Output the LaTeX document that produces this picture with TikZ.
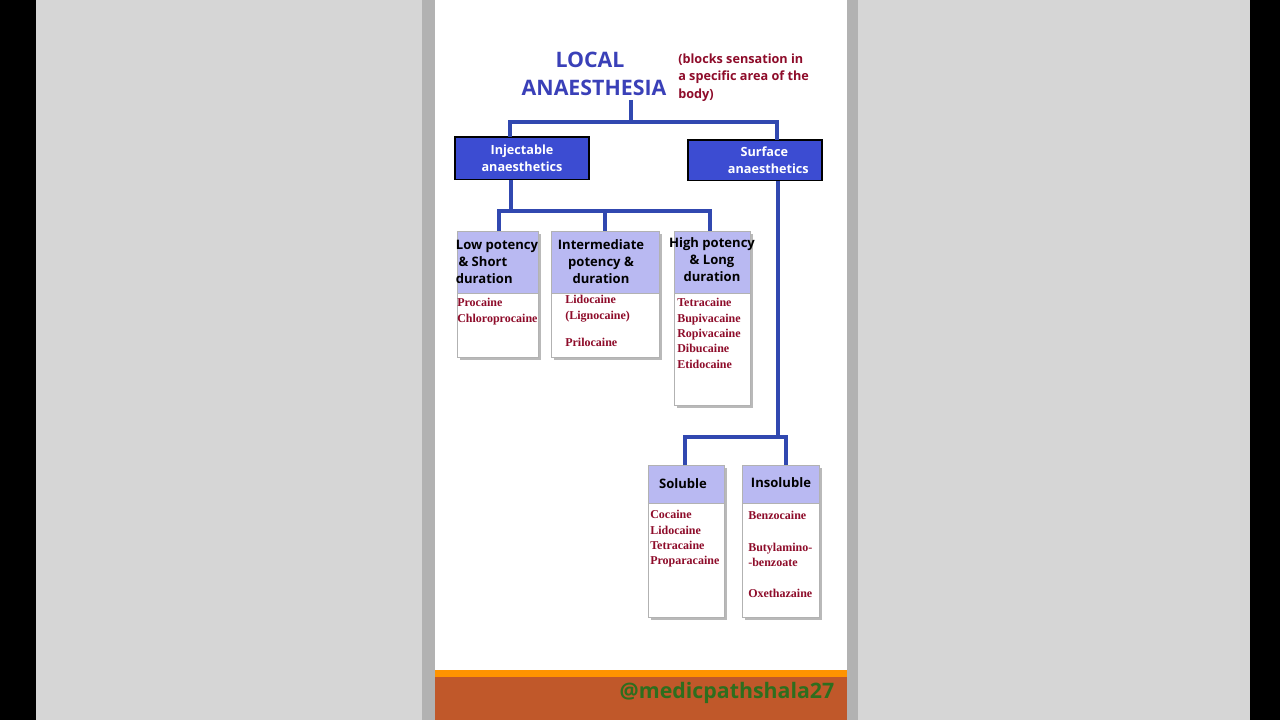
\documentclass[tikz,border=0pt]{standalone}
\usepackage{fontspec}
\setmainfont{Open Sans}
\newfontfamily\drugfont{Liberation Serif}
\begin{document}
\begin{tikzpicture}[x=0.75pt,y=-0.75pt,
  link/.style={draw=linkblue,line width=2.8pt},
  headbox/.style={fill=headblue,draw=black,line width=1pt,text=white,font=\fontsize{9.5}{12.5}\selectfont\bfseries,align=center},
  cathead/.style={fill=lavender,draw=gray!60,line width=0.6pt},
  cattext/.style={font=\fontsize{9.8}{12.8}\selectfont\bfseries,align=center,text=black},
  drug/.style={font=\drugfont\fontsize{9}{11.6}\selectfont\bfseries,align=left,text=drugred,anchor=north west,inner sep=0pt}]
\definecolor{linkblue}{HTML}{3148B0}
\definecolor{headblue}{HTML}{3C4CD2}
\definecolor{lavender}{HTML}{B9B9F2}
\definecolor{drugred}{HTML}{8E0C2A}
\definecolor{titleblue}{HTML}{3A40B8}
\definecolor{sidegray}{HTML}{D6D6D6}
\definecolor{footbrown}{HTML}{C0582A}
\definecolor{wmgreen}{HTML}{2E6E1E}
\useasboundingbox (0,0) rectangle (1280,720);
\fill[black] (0,0) rectangle (1280,720);
\fill[sidegray] (36,0) rectangle (1250,720);
\fill[gray!60] (422,0) rectangle (435,720);
\fill[gray!60] (847,0) rectangle (858,720);
\fill[white] (435,0) rectangle (847,720);
% title
\node[text=titleblue,font=\fontsize{16}{18}\selectfont\bfseries] (t1) at (590,60) {LOCAL};
\node[text=titleblue,font=\fontsize{16}{18}\selectfont\bfseries] (t2) at (594,88) {ANAESTHESIA};
\node[text=drugred,font=\fontsize{9.5}{12.8}\selectfont\bfseries,align=left,anchor=north west,inner sep=0pt] (note) at (678,54) {(blocks sensation in\\a specific area of the\\body)};
% level 1
\coordinate (r0) at (631,100);
\node[headbox,minimum width=100.5pt,minimum height=32pt] (inj) at (522,158.5) {Injectable\\anaesthetics};
\node[headbox,minimum width=100.5pt,minimum height=30.5pt] (sur) at (755,160.5) {\hspace*{14pt}Surface\\\hspace*{20pt}anaesthetics};
\draw[link] (r0) -- (631,122) -- (510,122) -- (510,137);
\draw[link] (631,122) -- (777,122) -- (777,140);
% category boxes
\newcommand{\catb}[6]{% name, x1,y1,x2,y2,headbottom
  \fill[gray!55] (#2+3,#3+3) rectangle (#4+3,#5+3);
  \draw[fill=white,draw=gray!60,line width=0.6pt] (#2,#3) rectangle (#4,#5);
  \draw[cathead] (#2,#3) rectangle (#4,#6);
  \coordinate (#1) at ({(#2+#4)/2},#3);}
\catb{low}{457}{231}{538}{357}{293}
\catb{mid}{551}{231}{659}{357}{293}
\catb{high}{674}{231}{750}{405}{293}
\catb{sol}{648}{465}{724}{617}{503}
\catb{ins}{742}{465}{819}{617}{503}
\draw[link] (511,180) -- (511,211);
\draw[link] (499,231) -- (499,211) -- (710,211) -- (710,231);
\draw[link] (605,211) -- (605,231);
\draw[link] (778,181) -- (778,437);
\draw[link] (685,465) -- (685,437) -- (786,437) -- (786,465);
% category texts
\node[cattext,align=left] (lowt) at (497,262) {Low potency\\\hspace*{2pt}\& Short\\duration};
\node[cattext] (midt) at (601,262) {Intermediate\\potency \&\\duration};
\node[cattext] (hight) at (712,260) {High potency\\\& Long\\duration};
\node[cattext] (solt) at (683,484) {Soluble};
\node[cattext] (inst) at (781,483) {Insoluble};
% drugs
\node[drug] (d1) at (457,298) {Procaine\\Chloroprocaine};
\node[drug] (d2) at (565,295) {Lidocaine\\(Lignocaine)\\[9pt]Prilocaine};
\node[drug] (d3) at (677,298) {Tetracaine\\Bupivacaine\\Ropivacaine\\Dibucaine\\Etidocaine};
\node[drug] (d4) at (650,510) {Cocaine\\Lidocaine\\Tetracaine\\Proparacaine};
\node[drug] (d5) at (748,511) {Benzocaine\\[12pt]Butylamino-\\-benzoate\\[12pt]Oxethazaine};
% footer
\fill[footbrown] (435,670) rectangle (847,720);
\fill[orange!85!yellow] (435,670) rectangle (847,677);
\node[text=wmgreen,font=\fontsize{16}{18}\selectfont\bfseries] (wm) at (727,693) {@medicpathshala27};
\end{tikzpicture}
\end{document}
